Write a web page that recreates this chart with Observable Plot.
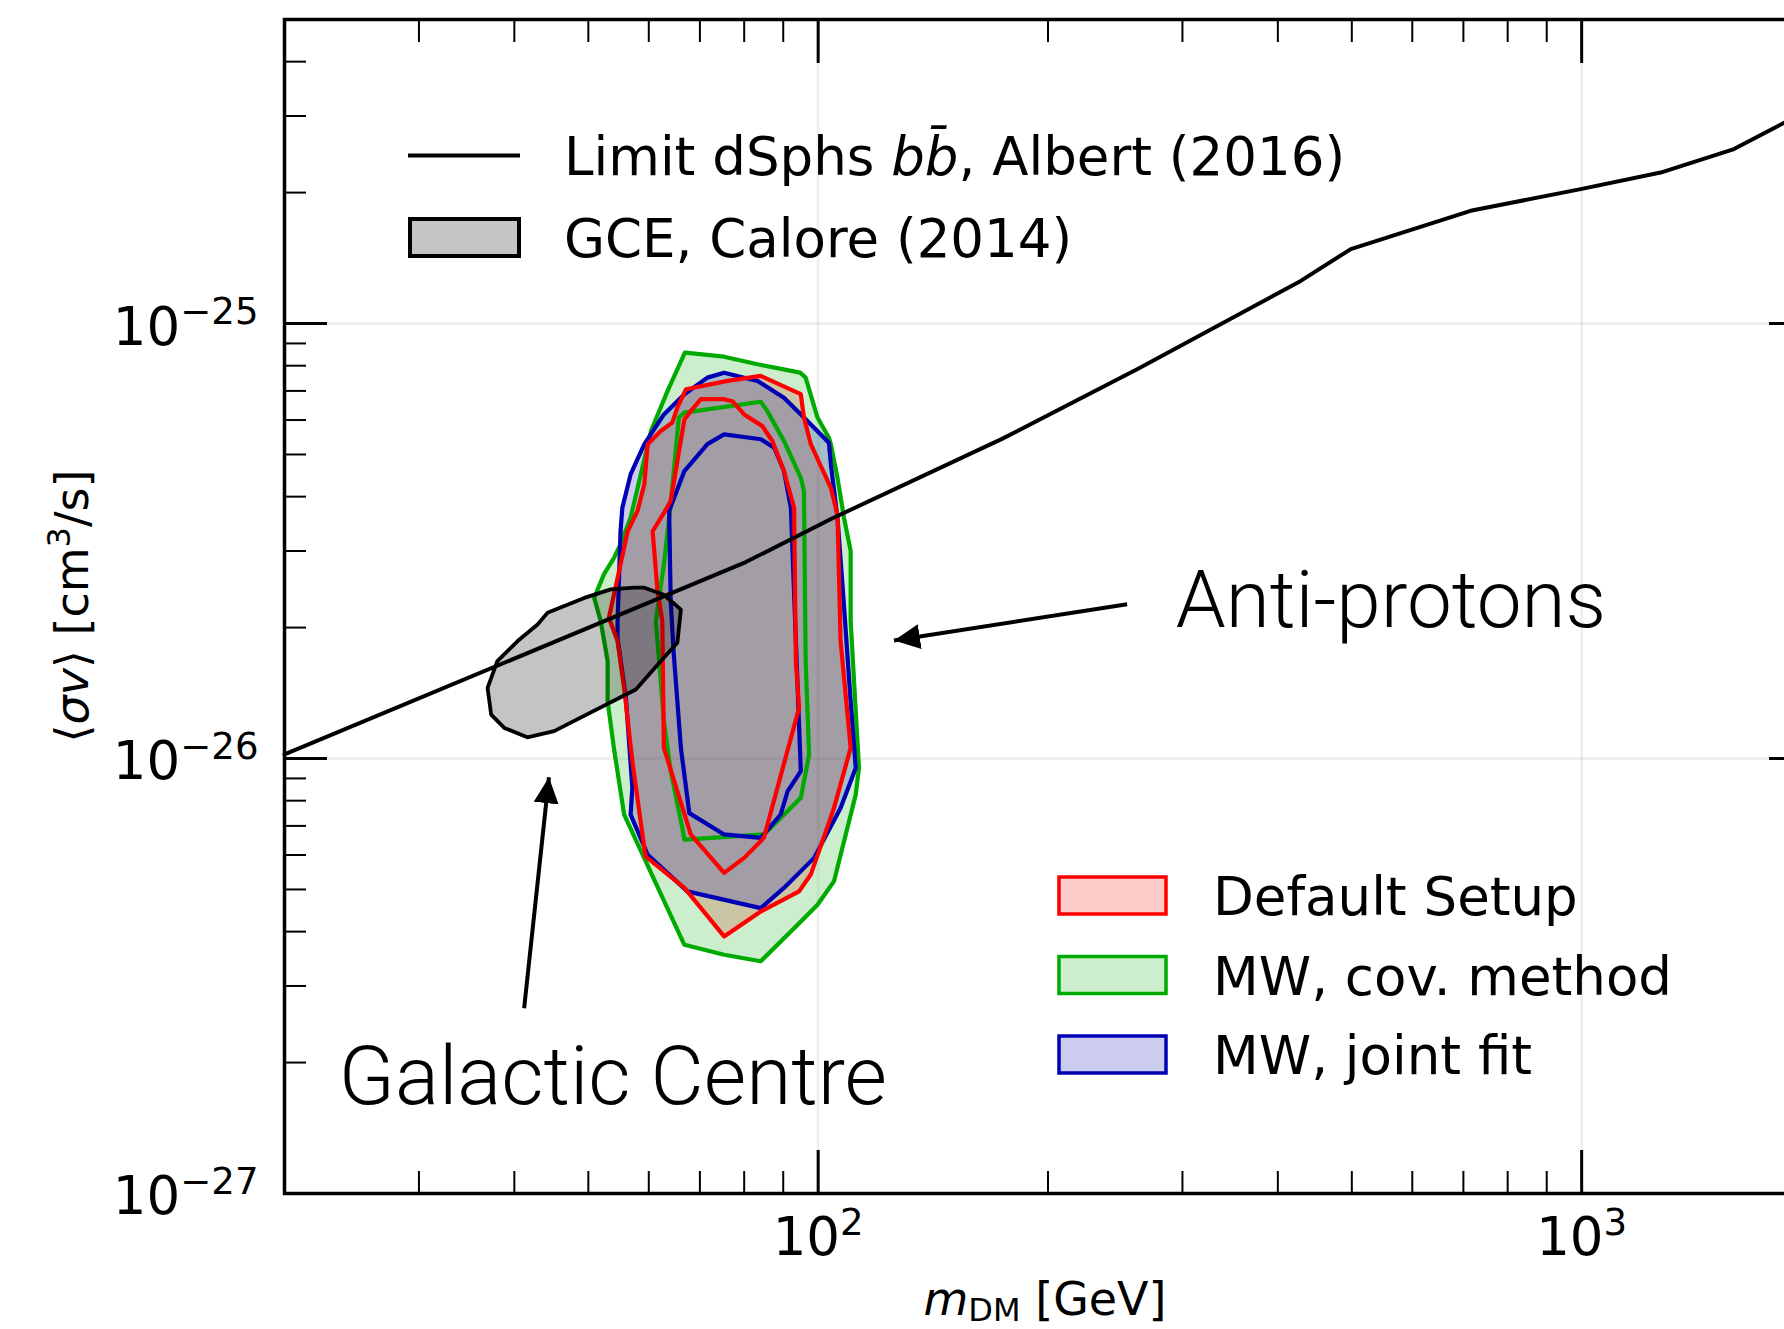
<!DOCTYPE html>
<html>
<head>
<meta charset="utf-8">
<script src="https://cdn.jsdelivr.net/npm/d3@7"></script>
<script src="https://cdn.jsdelivr.net/npm/@observablehq/plot@0.6"></script>
<style>
html, body { margin: 0; padding: 0; background: #fff; overflow: hidden; }
#chart { position: relative; width: 1784px; height: 1329px; overflow: hidden; }
#chart svg { max-width: none !important; }
</style>
</head>
<body>
<div id="chart"></div>
<script>
// ---------------- data (mass in GeV, <sigma v> in units of 1e-26 cm^3/s) ----------------
const UNIT = 1e-26;

// Fermi-LAT dSph b-bbar limit (Albert 2016)
const limitMass  = [20, 80.4, 104.1, 174.1, 262.8, 428.6, 498.4, 715.3, 997, 1269, 1583, 1845, 2000];
const limitSigma = [1.022, 2.829, 3.558, 5.43, 7.88, 12.53, 14.83, 18.16, 20.37, 22.24, 25.18, 28.99, 31.23];

// GCE region (Calore 2014)
const gceRegion = [[57.4,2.47],[59.2,2.47],[62.8,2.38],[66.1,2.20],[65.4,1.845],[62.2,1.674],[57.7,1.441],[45.1,1.156],[41.6,1.119],[38.8,1.176],[37.3,1.262],[36.9,1.453],[38.0,1.674],[40.4,1.862],[42.9,2.033],[44.2,2.162],[49.4,2.34],[53.5,2.448]];

// Default setup (red)
const redOuter = [[76.1,7.38],[84.1,7.58],[94.9,6.88],[95.8,6.08],[97.8,5.28],[103.9,4.19],[106.0,3.64],[107.0,1.862],[110.3,1.058],[104.9,0.770],[97.8,0.541],[94.4,0.495],[84.1,0.445],[75.3,0.390],[66.8,0.504],[59.4,0.596],[57.1,0.986],[55.7,1.453],[54.6,1.862],[53.2,2.106],[55.1,2.795],[56.3,3.33],[58.0,3.71],[59.2,4.27],[59.8,5.28],[62.2,5.66],[64.4,5.92],[65.4,6.41],[67.1,7.06]];
const redInner = [[70.2,6.70],[75.3,6.70],[77.2,6.63],[80.0,6.18],[84.5,5.81],[87.1,5.37],[90.2,4.58],[93.0,3.77],[93.5,1.674],[94.4,1.307],[84.9,0.657],[80.0,0.591],[75.3,0.546],[68.1,0.669],[62.8,1.058],[62.5,2.07],[61.6,2.426],[60.7,3.33],[62.8,3.67],[64.1,3.91],[66.8,6.02],[68.1,6.29]];

// MW, cov. method (green)
const greenOuter = [[66.9,8.57],[75.3,8.39],[83.3,8.06],[94.7,7.71],[96.3,7.51],[99.8,6.08],[103.3,5.46],[103.9,5.28],[106.0,4.42],[108.1,3.58],[110.3,3.00],[110.3,2.07],[113.1,0.951],[112.0,0.826],[104.9,0.522],[99.8,0.461],[94.0,0.415],[84.1,0.342],[75.3,0.354],[66.8,0.373],[55.7,0.743],[54.0,1.058],[53.0,1.354],[53.0,1.674],[51.9,2.07],[50.9,2.34],[52.4,2.65],[54.0,2.89],[55.1,3.11],[56.8,3.58],[60.4,5.66],[63.5,7.00]];
const greenInner = [[66.8,6.24],[84.1,6.61],[85.8,6.29],[90.2,5.37],[94.9,4.42],[95.8,4.12],[96.3,1.674],[97.3,1.021],[94.9,0.812],[89.3,0.730],[84.9,0.669],[66.8,0.651],[66.4,0.692],[64.1,0.935],[62.8,1.218],[61.3,2.07],[62.8,2.795],[64.1,3.84],[65.7,6.08]];

// MW, joint fit (blue)
const blueOuter = [[75.3,7.71],[83.3,7.38],[90.2,6.75],[95.8,6.08],[103.3,5.32],[103.9,4.75],[106.0,3.58],[108.0,2.30],[110.3,1.354],[112.0,0.951],[107.0,0.770],[98.8,0.591],[90.2,0.504],[84.1,0.453],[67.4,0.495],[59.8,0.601],[56.8,0.743],[57.1,0.856],[56.0,1.379],[54.6,1.894],[54.6,2.033],[55.1,3.33],[55.4,3.77],[56.8,4.50],[59.2,5.28],[62.8,6.18],[66.8,6.88],[71.6,7.51]];
const blueInner = [[75.3,5.56],[84.1,5.42],[87.6,5.18],[90.2,4.58],[92.1,3.77],[93.5,1.862],[94.9,0.935],[91.2,0.841],[89.3,0.743],[84.1,0.657],[75.3,0.669],[67.8,0.749],[66.1,1.058],[64.7,1.735],[64.1,2.30],[63.8,3.71],[66.8,4.58],[71.6,5.28]];

// annotations
const annoText  = ["Anti-protons", "Galactic Centre"];
const annoMass  = [294.0, 23.56];
const annoSigma = [2.296, 0.1845];
const annoSize  = [80, 82];
const arrowFromMass  = [253.9, 41.2];
const arrowFromSigma = [2.264, 0.2665];
const arrowToMass    = [125.7, 44.4];
const arrowToSigma   = [1.867, 0.9057];

// ticks
const xMajor = [100, 1000];
const xMinor = [20, 30, 40, 50, 60, 70, 80, 90, 200, 300, 400, 500, 600, 700, 800, 900];
const yMajor = [1e-27, 1e-26, 1e-25];
const yMinor = [2e-27,3e-27,4e-27,5e-27,6e-27,7e-27,8e-27,9e-27,2e-26,3e-26,4e-26,5e-26,6e-26,7e-26,8e-26,9e-26,2e-25,3e-25,4e-25];

// legend entries
const legendTop = ["GCE, Calore (2014)"];
const legendSeries = ["Default Setup", "MW, cov. method", "MW, joint fit"];

// ---------------- styles ----------------
const RED = "#ff0000", GREEN = "#00aa00", BLUE = "#0000b4";
const SERIES_COLORS = [RED, GREEN, BLUE];
const LW = 4.2;

const rows = pts => pts.map(([m, s]) => ({m, s: s * UNIT}));
const poly = (pts, opts) => Plot.line(rows(pts), {x: "m", y: "s", curve: "linear-closed", ...opts});
const limitRows = limitMass.map((m, i) => ({m, s: limitSigma[i] * UNIT}));
const annoRows = annoText.map((t, i) => ({t, m: annoMass[i], s: annoSigma[i] * UNIT, size: annoSize[i]}));
const arrowRows = arrowFromMass.map((m, i) => ({
  x1: m, y1: arrowFromSigma[i] * UNIT, x2: arrowToMass[i], y2: arrowToSigma[i] * UNIT
}));
const expFmt = d => "10^" + String(Math.round(Math.log10(d))).replace("-", "\u2212");

const tickAxes = [];
for (const anchor of ["bottom", "top"]) {
  tickAxes.push(Plot.axisX(xMajor, {anchor, tickSize: -43, strokeWidth: 3, fill: "none", label: null}));
  tickAxes.push(Plot.axisX(xMinor, {anchor, tickSize: -22, strokeWidth: 2, fill: "none", label: null}));
}
for (const anchor of ["left", "right"]) {
  tickAxes.push(Plot.axisY(yMajor, {anchor, tickSize: -43, strokeWidth: 3, fill: "none", label: null}));
  tickAxes.push(Plot.axisY(yMinor, {anchor, tickSize: -22, strokeWidth: 2, fill: "none", label: null}));
}

const chart = Plot.plot({
  width: 1830,
  height: 1329,
  marginLeft: 284,
  marginRight: 19,
  marginTop: 19,
  marginBottom: 136,
  x: {type: "log", domain: [20, 2000], label: null},
  y: {type: "log", domain: [1e-27, 5e-25], label: null},
  style: {fontFamily: "DejaVu Sans", fontSize: "53px", color: "black", background: "white"},
  marks: [
    Plot.gridX(xMajor, {stroke: "#000", strokeOpacity: 0.06, strokeWidth: 3}),
    Plot.gridY([1e-26, 1e-25], {stroke: "#000", strokeOpacity: 0.06, strokeWidth: 3}),
    // filled regions (drawn red, green, blue)
    poly(redOuter, {fill: RED, fillOpacity: 0.2, stroke: "none"}),
    poly(greenOuter, {fill: GREEN, fillOpacity: 0.2, stroke: "none"}),
    poly(blueOuter, {fill: BLUE, fillOpacity: 0.2, stroke: "none"}),
    // contour lines
    poly(greenOuter, {stroke: GREEN, strokeWidth: LW}),
    poly(greenInner, {stroke: GREEN, strokeWidth: LW}),
    poly(blueOuter, {stroke: BLUE, strokeWidth: LW}),
    poly(blueInner, {stroke: BLUE, strokeWidth: LW}),
    poly(redOuter, {stroke: RED, strokeWidth: LW}),
    poly(redInner, {stroke: RED, strokeWidth: LW}),
    // GCE
    poly(gceRegion, {fill: "black", fillOpacity: 0.23, stroke: "black", strokeWidth: 3.8}),
    // limit
    Plot.line(limitRows, {x: "m", y: "s", stroke: "black", strokeWidth: 4}),
    // annotations
    Plot.link(arrowRows, {x1: "x1", y1: "y1", x2: "x2", y2: "y2", stroke: "black", strokeWidth: 4, markerEnd: "arrow"}),
    Plot.text(annoRows, {x: "m", y: "s", text: "t", textAnchor: "start", fontSize: "size", fontFamily: "Roboto", fontWeight: 300, fill: "black"}),
    // axes
    ...tickAxes,
    Plot.axisX(xMajor, {anchor: "bottom", tickSize: 0, tickPadding: 24, tickFormat: expFmt, fontSize: 53, label: null}),
    Plot.axisY(yMajor, {anchor: "left", tickSize: 0, tickPadding: 26, tickFormat: expFmt, fontSize: 53, dy: 4, label: null}),
    Plot.frame({stroke: "black", strokeWidth: 3.5})
  ]
});

const svg = chart.tagName.toLowerCase() === "svg" ? chart : chart.querySelector("svg");
svg.style.maxWidth = "none";
const ns = "http://www.w3.org/2000/svg";

// superscripts on tick labels
svg.querySelectorAll("text").forEach(t => {
  const s = t.textContent;
  if (t.children.length === 0 && s.startsWith("10^")) {
    t.textContent = "10";
    const ts = document.createElementNS(ns, "tspan");
    ts.setAttribute("font-size", "0.7em");
    ts.setAttribute("dy", "-0.55em");
    ts.textContent = s.slice(3);
    t.appendChild(ts);
  }
});

// filled arrow heads
svg.querySelectorAll("marker").forEach(m => {
  m.setAttribute("viewBox", "-10 -5 10 10");
  m.setAttribute("markerWidth", "6.5");
  m.setAttribute("markerHeight", "6.5");
  m.setAttribute("fill", "black");
  m.setAttribute("stroke", "none");
  while (m.firstChild) m.removeChild(m.firstChild);
  const p = document.createElementNS(ns, "path");
  p.setAttribute("d", "M-10,-4.8L0,0L-10,4.8Z");
  m.appendChild(p);
});

const g = d3.select(svg).append("g")
  .attr("font-family", "DejaVu Sans")
  .attr("fill", "black")
  .attr("text-anchor", "start");

// axis labels
const xl = g.append("text").attr("x", 1045).attr("y", 1315).attr("text-anchor", "middle").attr("font-size", 46);
xl.append("tspan").attr("font-style", "italic").text("m");
xl.append("tspan").attr("font-size", 32).attr("dy", 6).text("DM");
xl.append("tspan").attr("dy", -6).text(" [GeV]");

const yl = g.append("text").attr("transform", "translate(88,606) rotate(-90)").attr("text-anchor", "middle").attr("font-size", 46);
yl.append("tspan").text("\u27E8");
yl.append("tspan").attr("font-style", "italic").text("\u03C3v");
yl.append("tspan").text("\u27E9 [cm");
yl.append("tspan").attr("font-size", 32).attr("dy", -18).text("3");
yl.append("tspan").attr("dy", 18).text("/s]");

// top-left legend
g.append("line").attr("x1", 408).attr("x2", 520).attr("y1", 155.5).attr("y2", 155.5).attr("stroke", "black").attr("stroke-width", 4);
const l1 = g.append("text").attr("x", 564).attr("y", 175).attr("font-size", 53);
l1.append("tspan").text("Limit dSphs ");
l1.append("tspan").attr("font-style", "italic").text("bb\u0304");
l1.append("tspan").text(", Albert (2016)");
g.append("rect").attr("x", 410).attr("y", 219).attr("width", 109).attr("height", 37)
  .attr("fill", "#c5c5c5").attr("stroke", "black").attr("stroke-width", 4);
g.append("text").attr("x", 564).attr("y", 257).attr("font-size", 53).text(legendTop[0]);

// bottom-right legend
legendSeries.forEach((name, i) => {
  const y0 = 877 + i * 79.5;
  g.append("rect").attr("x", 1059).attr("y", y0).attr("width", 107).attr("height", 37)
    .attr("fill", SERIES_COLORS[i]).attr("fill-opacity", 0.2)
    .attr("stroke", SERIES_COLORS[i]).attr("stroke-width", 3.5);
  g.append("text").attr("x", 1213).attr("y", y0 + 38).attr("font-size", 53).text(name);
});

document.getElementById("chart").appendChild(chart);
</script>
</body>
</html>
